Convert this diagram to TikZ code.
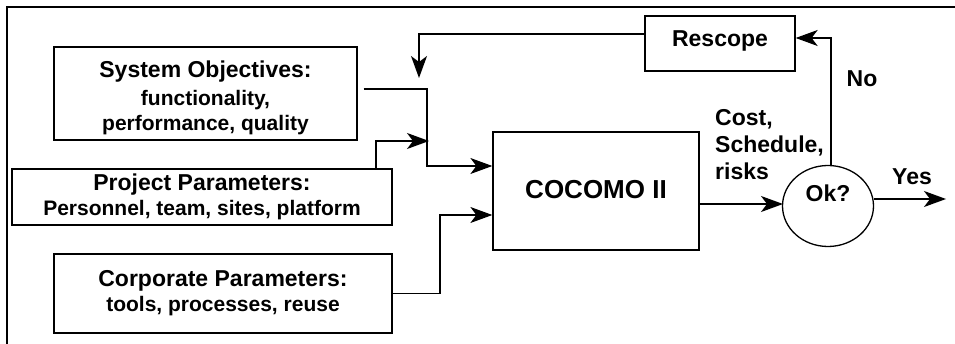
\documentclass[tikz,border=0pt]{standalone}
\usepackage{fontspec}
\setmainfont{Liberation Sans}
\usetikzlibrary{arrows.meta,shapes.geometric,calc}

\tikzset{
  box/.style={draw, line width=1.3pt, inner sep=0pt, align=center,
              font=\bfseries\fontsize{21}{25}\selectfont},
  okbox/.style={draw, ellipse, line width=1.3pt, inner sep=0pt,
              minimum width=91pt, minimum height=81pt,
              font=\bfseries\fontsize{23}{25}\selectfont},
  lbl/.style={inner sep=0pt, font=\bfseries\fontsize{23}{27}\selectfont},
  conn/.style={line width=1.3pt, -{Stealth[length=22pt,width=16pt,inset=6pt]}},
}
\newcommand{\headtxt}[1]{{\fontsize{23}{25}\selectfont #1}}

\begin{document}
\begin{tikzpicture}[x=1pt, y=-1pt]
\useasboundingbox (0,0) rectangle (955,344);

% open frame: left and top edges
\draw[line width=2.6pt] (7,344) -- (7,7) -- (955,7);

% input boxes
\node[box, minimum width=303pt, minimum height=93pt] (sys) at (205.5,93.5)
  {\rule{0pt}{25pt}\headtxt{System Objectives:}\\[3pt]functionality,\\performance, quality};
\node[box, minimum width=380pt, minimum height=56pt] (proj) at (202,197)
  {\headtxt{Project Parameters:}\\Personnel, team, sites, platform};
\node[box, minimum width=338pt, minimum height=79pt] (corp) at (223,293.5)
  {\headtxt{Corporate Parameters:}\\tools, processes, reuse};

% model, rescope and decision
\node[box, minimum width=206pt, minimum height=118pt,
      font=\bfseries\fontsize{26}{30}\selectfont] (cocomo) at (596,191)
  {\raisebox{3pt}{COCOMO II}};
\node[box, minimum width=150pt, minimum height=55pt,
      font=\bfseries\fontsize{23}{27}\selectfont] (rescope) at (720,43.5)
  {\raisebox{-2.75pt}[0pt][0pt]{Rescope}};
\node[okbox] (ok) at (828,206) {\raisebox{4.75pt}[0pt][0pt]{Ok?}};

% labels
\node[lbl, align=left, anchor=west] (csr) at (715,145)
  {Cost,\\Schedule,\\risks};
\node[lbl] (no) at (862,79) {No};
\node[lbl] (yes) at (912,177) {Yes};

% free ends of connectors
\coordinate (fbtip) at (419,78);
\coordinate (sysjoin) at (427,166);
\coordinate (projtip) at (429,141);
\coordinate (corpmid) at (440,215);
\coordinate (okin) at (783,204);
\coordinate (yestip) at (946,199);

% connectors
\draw[conn] ([yshift=9.5pt]rescope.west) -| (fbtip);
\draw[conn] ([xshift=6pt,yshift=4.5pt]sys.east) -| (sysjoin)
  -- (cocomo.west |- sysjoin);
\draw[conn] ([xshift=120pt]proj.north) -- ([xshift=174pt]proj.north)
  |- (projtip);
\draw[conn] (corp.east) -| (corpmid) -- (cocomo.west |- corpmid);
\draw[conn] (cocomo.east |- okin) -- (okin);
\draw[conn] (ok.east |- yestip) -- (yestip);
\draw[conn] ([xshift=3pt]ok.north) |- ([yshift=5.5pt]rescope.east);
\end{tikzpicture}
\end{document}
